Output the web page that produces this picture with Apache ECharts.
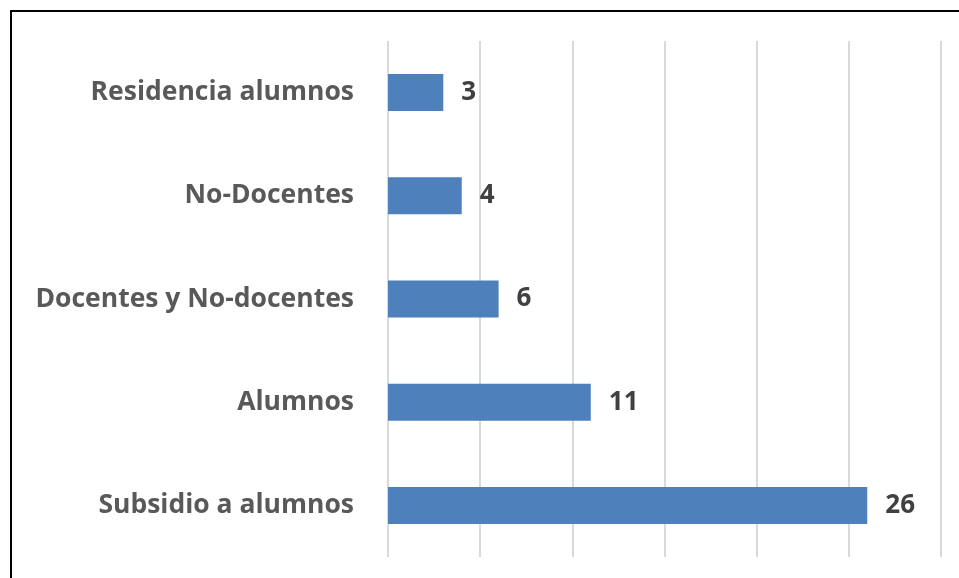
<!DOCTYPE html>
<html>
<head>
<meta charset="utf-8">
<script src="https://cdn.jsdelivr.net/npm/echarts@6/dist/echarts.min.js"></script>
<style>
  html, body { margin: 0; padding: 0; background: #fff; }
  #chart { width: 959px; height: 578px; }
</style>
</head>
<body>
<div id="chart"></div>
<script>
  // categories from bottom to top
  const categories = ['Subsidio a alumnos', 'Alumnos', 'Docentes y No-docentes', 'No-Docentes', 'Residencia alumnos']
  const values = [26, 11, 6, 4, 3]

  const mChart = echarts.init(document.getElementById('chart'))
  const option = {
    animation: false,
    grid: {
      left: 388,
      right: 18,
      top: 41,
      bottom: 21,
      containLabel: false
    },
    // black frame, cut off at right and bottom like the original
    graphic: [{
      type: 'rect',
      shape: { x: 11, y: 11, width: 1200, height: 1200 },
      style: { fill: 'none', stroke: '#000', lineWidth: 2 },
      silent: true
    }],
    xAxis: {
      type: 'value',
      min: 0,
      max: 30,
      interval: 5,
      axisLabel: { show: false },
      axisLine: { show: false },
      axisTick: { show: false },
      splitLine: { lineStyle: { color: '#d9d9d9', width: 2 } }
    },
    yAxis: {
      type: 'category',
      data: categories,
      axisLine: { show: false },
      axisTick: { show: false },
      axisLabel: {
        color: '#595959',
        fontFamily: 'Open Sans',
        fontWeight: 'bold',
        fontSize: 26.5,
        margin: 34,
        padding: [6, 0, 0, 0]
      }
    },
    series: [{
      type: 'bar',
      data: values,
      barWidth: 37,
      itemStyle: { color: '#4e80bc' },
      label: {
        show: true,
        position: 'right',
        distance: 18,
        color: '#404040',
        fontFamily: 'Open Sans',
        fontWeight: 'bold',
        fontSize: 26,
        padding: [6, 0, 0, 0]
      }
    }]
  }
  mChart.setOption(option)
  window.addEventListener('resize', function () {
    mChart.resize()
  })
</script>
</body>
</html>
